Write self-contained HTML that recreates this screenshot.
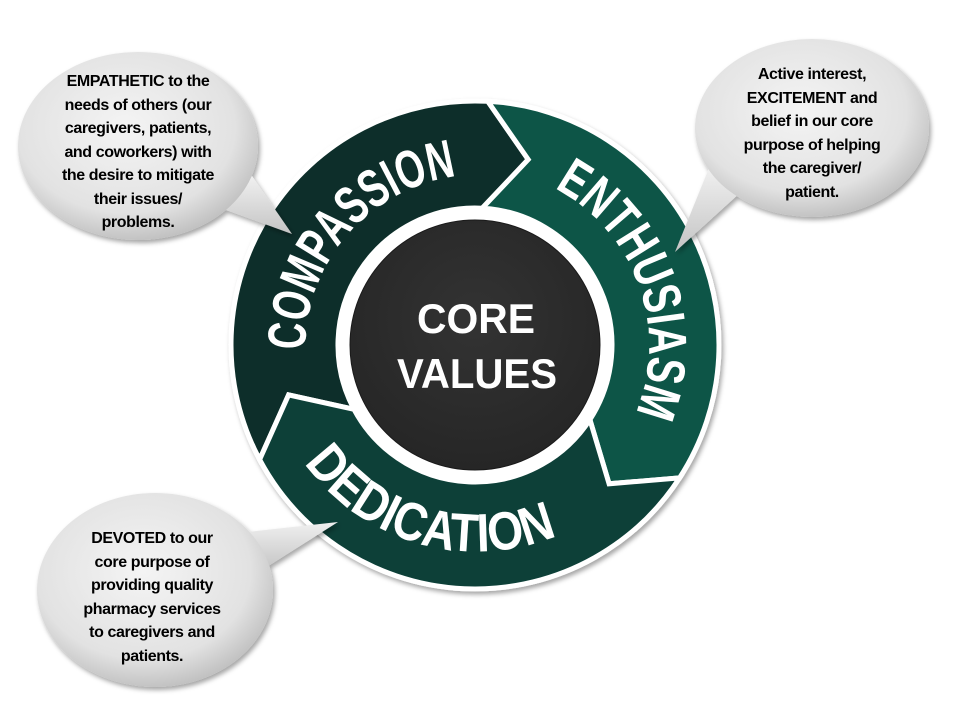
<!DOCTYPE html>
<html><head><meta charset="utf-8"><style>
html,body{margin:0;padding:0;background:#fff;}
body{width:960px;height:720px;position:relative;overflow:hidden;font-family:"Liberation Sans",sans-serif;}
svg{position:absolute;left:0;top:0;}
.t{position:absolute;width:260px;text-align:center;font-weight:bold;font-size:16px;line-height:23.5px;color:#000;letter-spacing:-0.4px;}
</style></head><body>
<svg width="960" height="720" viewBox="0 0 960 720">
<defs>
<radialGradient id="bg" cx="45%" cy="40%" r="65%">
<stop offset="0" stop-color="#f4f4f4"/><stop offset="0.7" stop-color="#e2e2e2"/><stop offset="1" stop-color="#b8b8b8"/>
</radialGradient>
<linearGradient id="pg" x1="0" y1="0" x2="0" y2="1">
<stop offset="0" stop-color="#f0f0f0"/><stop offset="1" stop-color="#c4c4c4"/>
</linearGradient>
<radialGradient id="cg" cx="50%" cy="40%" r="60%">
<stop offset="0" stop-color="#333"/><stop offset="1" stop-color="#262626"/>
</radialGradient>
<filter id="sh" x="-10%" y="-10%" width="130%" height="130%"><feDropShadow dx="2" dy="3" stdDeviation="2.5" flood-opacity="0.35"/></filter>
<path id="pc" d="M324.6,428.4 A174,174 0 0 1 536.6,184.4"/>
<path id="pe" d="M475,168 A177,177 0 0 1 587.5,479.1"/>
<path id="pd" d="M265.5,359.7 A212,212 0 0 0 644.9,468.4"/>
</defs>

<g stroke="#fff" stroke-width="5" stroke-linejoin="miter" filter="url(#sh)">
<path d="M259.6,459.6 A244,244 0 0 1 487.8,101.3 L528.2,159.5 L482.2,208.2 A137,137 0 0 0 354.0,409.3 L288.6,394.9 Z" fill="#0c2f29"/>
<path d="M487.8,101.3 A244,244 0 0 1 679.6,477.9 L609.1,483.8 L589.9,419.6 A137,137 0 0 0 482.2,208.2 L528.2,159.5 Z" fill="#0a5546"/>
<path d="M679.6,477.9 A244,244 0 0 1 259.6,459.6 L288.6,394.9 L354.0,409.3 A137,137 0 0 0 589.9,419.6 L609.1,483.8 Z" fill="#083f37"/>
</g>

<circle cx="475" cy="345" r="137" fill="#fff"/>
<circle cx="475" cy="345" r="125" fill="url(#cg)" stroke="#1a1a1a" stroke-width="1"/>

<g fill="#fff" font-family="Liberation Sans, sans-serif">
<text font-size="54" font-weight="bold"><textPath href="#pc" startOffset="50%" text-anchor="middle" textLength="252" lengthAdjust="spacingAndGlyphs">COMPASSION</textPath></text>
<text font-size="54" font-weight="bold"><textPath href="#pe" startOffset="50%" text-anchor="middle" textLength="262" lengthAdjust="spacingAndGlyphs">ENTHUSIASM</textPath></text>
<text font-size="54" font-weight="bold"><textPath href="#pd" startOffset="50%" text-anchor="middle" textLength="284" lengthAdjust="spacingAndGlyphs">DEDICATION</textPath></text>
<text x="476" y="333" font-size="42" font-weight="bold" text-anchor="middle" textLength="118" lengthAdjust="spacingAndGlyphs">CORE</text>
<text x="477" y="388" font-size="42" font-weight="bold" text-anchor="middle" textLength="160" lengthAdjust="spacingAndGlyphs">VALUES</text>
</g>

<g filter="url(#sh)">
<polygon points="226,210 252,176 292,234" fill="url(#pg)"/>
<ellipse cx="138" cy="146" rx="120" ry="94" fill="url(#bg)"/>
<polygon points="741,192 709,168 675,252" fill="url(#pg)"/>
<ellipse cx="812" cy="128" rx="117" ry="89" fill="url(#bg)"/>
<polygon points="238,533 262,570 338,522" fill="url(#pg)"/>
<ellipse cx="155" cy="590" rx="118" ry="97" fill="url(#bg)"/>
</g>
</svg>

<div class="t" style="left:8px;top:70px;">EMPATHETIC to the<br>needs of others (our<br>caregivers, patients,<br>and coworkers) with<br>the desire to mitigate<br>their issues/<br>problems.</div>
<div class="t" style="left:682px;top:63px;">Active interest,<br>EXCITEMENT and<br>belief in our core<br>purpose of helping<br>the caregiver/<br>patient.</div>
<div class="t" style="left:22px;top:527px;">DEVOTED to our<br>core purpose of<br>providing quality<br>pharmacy services<br>to caregivers and<br>patients.</div>
</body></html>
